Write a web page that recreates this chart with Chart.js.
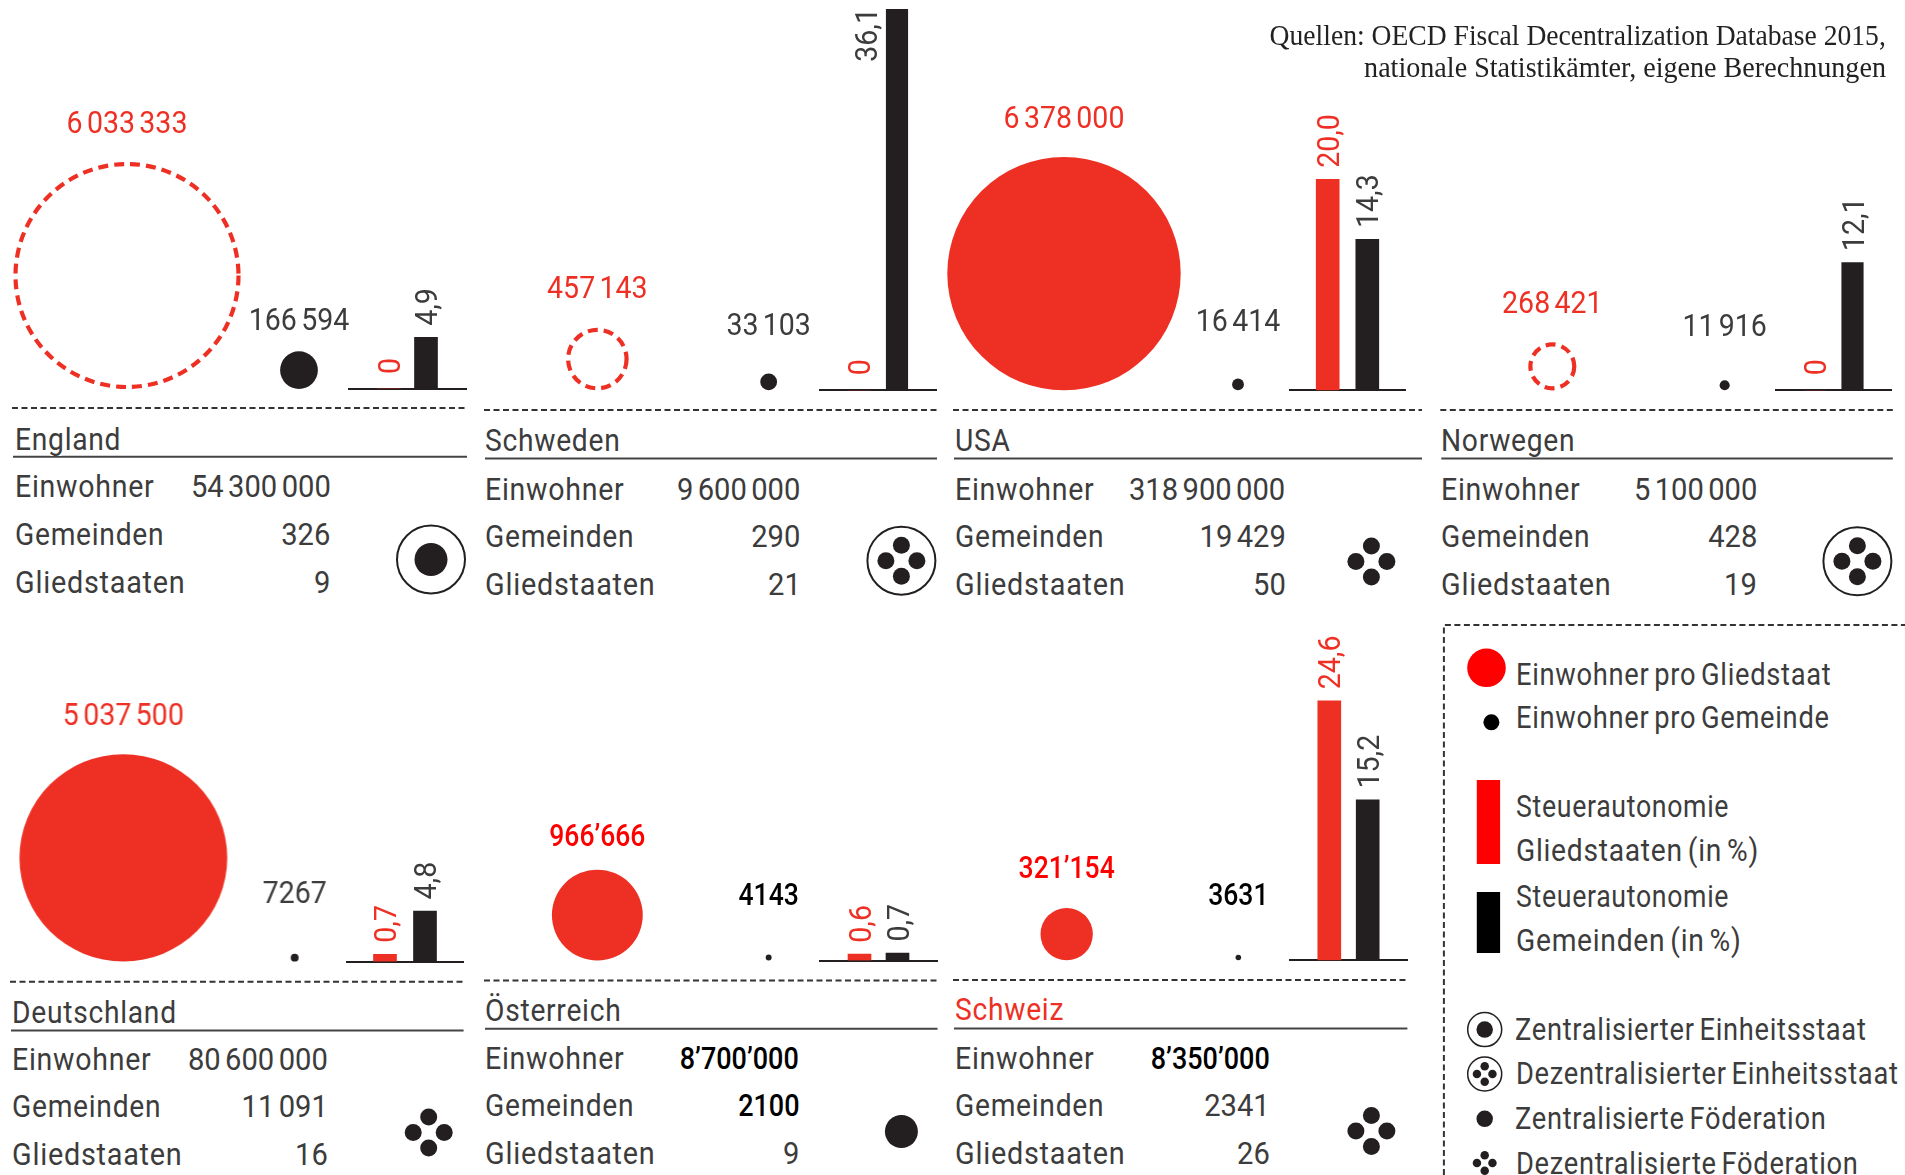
<!DOCTYPE html>
<html lang="de">
<head>
<meta charset="utf-8">
<title>Steuerautonomie</title>
<script src="https://cdn.jsdelivr.net/npm/chart.js@4"></script>
<style>
  html, body { margin: 0; background: #fff; overflow: hidden; }
  #page { position: relative; width: 1905px; height: 1175px; overflow: hidden; }
  #page canvas { position: absolute; pointer-events: none; }
  #deco { position: absolute; left: 0; top: 0; }
  .txt { position: absolute; white-space: nowrap; line-height: 1; color: #3c3c3c;
         font: 31px/1 Roboto, sans-serif; word-spacing: -3px; }
  .src { font: 30px/1 "Liberation Serif", serif; color: #222; word-spacing: 0; }
  .title { text-shadow: 2px 0 #fff, -2px 0 #fff, 3px 0 #fff, -3px 0 #fff; }
</style>
</head>
<body>
<div id="page"><svg id="deco" width="1905" height="1175"></svg></div>
<script>
const countries = ['England', 'Schweden', 'USA', 'Norwegen', 'Deutschland', 'Österreich', 'Schweiz'];
const einwohner = [54300000, 9600000, 318900000, 5100000, 80600000, 8700000, 8350000];
const gemeinden = [326, 290, 19429, 428, 11091, 2100, 2341];
const gliedstaaten = [9, 21, 50, 19, 16, 9, 26];
const proGliedstaat = [6033333, 457143, 6378000, 268421, 5037500, 966666, 321154];
const proGemeinde = [166594, 33103, 16414, 11916, 7267, 4143, 3631];
const steuerGliedstaaten = [0, 0, 20.0, 0, 0.7, 0.6, 24.6];
const steuerGemeinden = [4.9, 36.1, 14.3, 12.1, 4.8, 0.7, 15.2];
const staatsform = ['zentralEinheit', 'dezentralEinheit', 'dezentralFoed', 'dezentralEinheit', 'dezentralFoed', 'zentralFoed', 'dezentralFoed'];
const rowLabels = ['Einwohner', 'Gemeinden', 'Gliedstaaten'];
const legendBubbles = ['Einwohner pro Gliedstaat', 'Einwohner pro Gemeinde'];
const legendBars = ['Steuerautonomie', 'Gliedstaaten (in %)', 'Steuerautonomie', 'Gemeinden (in %)'];
const legendForms = ['Zentralisierter Einheitsstaat', 'Dezentralisierter Einheitsstaat', 'Zentralisierte Föderation', 'Dezentralisierte Föderation'];
const quellen = ['Quellen: OECD Fiscal Decentralization Database 2015,', 'nationale Statistikämter, eigene Berechnungen'];

const RED = '#ee3024';
const INK = '#231f20';
const TEXT = '#3c3c3c';
const FONT = '31px Roboto, sans-serif';
const PX_PER_PERCENT = 10.55;
const RADIUS_PER_ROOT = 0.04621;
// the original face is a condensed DIN, Roboto is squeezed to its widths
const SQUEEZE_NUM = 0.92;
const SQUEEZE_TITLE = 0.91;
const SQUEEZE_ROW = [0.92, 0.91, 0.93];
const SQUEEZE_LEGEND = 0.88;
const SQUEEZE_SRC = [0.92, 0.937];

// page layout of the seven panels, px
const panelLayout = [
  { top: 0,   base: 389,   bigX: 127,  gap: 172,   axisL: 348,  axisW: 119, barGap: 37,   barW: 23,   smallBase: 330, bigLift: 29,
    lineL: 12,  lineR: 467,  dashY: 408, titleX: 14.5, titleY: 450,  ruleY: 456.7, rows: [497.5, 545, 593], valR: 330.7, symX: 431, symY: 559.5 },
  { top: 0,   base: 390.3, bigX: 597,  gap: 171.5, axisL: 819,  axisW: 118, barGap: 38,   barW: 21.5, smallBase: 335, bigLift: 29.5,
    lineL: 484, lineR: 937,  dashY: 410, titleX: 485,  titleY: 451,  ruleY: 458.6, rows: [500, 547, 595], valR: 800.4, symX: 901.4, symY: 560.7 },
  { top: 0,   base: 390.3, bigX: 1063.9, gap: 174.1, axisL: 1288.6, axisW: 117, barGap: 39.6, barW: 23,  smallBase: 331, bigLift: 29,
    lineL: 953, lineR: 1422, dashY: 410, titleX: 954.9, titleY: 451, ruleY: 458.6, rows: [500, 547, 595], valR: 1285.6, symX: 1371.4, symY: 561.5 },
  { top: 0,   base: 390.3, bigX: 1552.3, gap: 172.4, axisL: 1775.2, axisW: 117, barGap: 38, barW: 21.5, smallBase: 336, bigLift: 29,
    lineL: 1440.3, lineR: 1892.8, dashY: 410, titleX: 1440.9, titleY: 451, ruleY: 458.6, rows: [500, 547, 595], valR: 1757, symX: 1857.4, symY: 561.3 },
  { top: 600, base: 961.6, bigX: 123.7, gap: 171.3, axisL: 346, axisW: 117.6, barGap: 40, barW: 23, smallBase: 903, bigLift: 29.4,
    lineL: 10, lineR: 463.6, dashY: 981.8, titleX: 11.6, titleY: 1023.5, ruleY: 1030.6, rows: [1070.3, 1117.3, 1165], valR: 327.6, symX: 428.7, symY: 1132.6 },
  { top: 600, base: 960.5, bigX: 597, gap: 171.5, axisL: 818.7, axisW: 118.8, barGap: 38, barW: 23, smallBase: 905, bigLift: 23.5, strong: true,
    lineL: 484, lineR: 937.5, dashY: 980.4, titleX: 485, titleY: 1020.7, ruleY: 1028.8, rows: [1069.6, 1116.6, 1164.4], valR: 799, symX: 901.4, symY: 1131.5 },
  { top: 600, base: 960.3, bigX: 1066.3, gap: 171.7, axisL: 1288.6, axisW: 118.8, barGap: 38.4, barW: 23, smallBase: 905, bigLift: 30, strong: true,
    lineL: 953, lineR: 1407.4, dashY: 980, titleX: 954.9, titleY: 1020, ruleY: 1028.5, rows: [1069.6, 1116.6, 1164.4], valR: 1269.7, symX: 1371.4, symY: 1131 }
];

const page = document.getElementById('page');
const deco = document.getElementById('deco');

function fmtCount(n, sep) {
  const s = String(n);
  if (s.length <= 4) return s;
  return s.replace(/\B(?=(\d{3})+$)/g, sep);
}

function fmtPercent(v) {
  return v === 0 ? '0' : v.toFixed(1).replace('.', ',');
}

function radiusOf(v) {
  return RADIUS_PER_ROOT * Math.sqrt(v);
}

function addText(text, x, baseline, opts = {}) {
  const el = document.createElement('div');
  el.className = 'txt ' + (opts.cls || '');
  el.textContent = text;
  el.style.top = (baseline - 26.2) + 'px';
  if (opts.right !== undefined) {
    el.style.right = (1905 - opts.right) + 'px';
    el.style.transformOrigin = 'right top';
  } else {
    el.style.left = x + 'px';
    el.style.transformOrigin = 'left top';
  }
  if (opts.squeeze) el.style.transform = `scaleX(${opts.squeeze})`;
  if (opts.color) el.style.color = opts.color;
  if (opts.weight) el.style.fontWeight = opts.weight;
  if (opts.spacing !== undefined) el.style.letterSpacing = opts.spacing + 'px';
  page.appendChild(el);
  return el;
}

function svg(tag, attrs) {
  const el = document.createElementNS('http://www.w3.org/2000/svg', tag);
  Object.entries(attrs).forEach(([k, v]) => el.setAttribute(k, v));
  deco.appendChild(el);
  return el;
}

function drawSymbol(kind, cx, cy, k = 1) {
  const clover = [[0, -15.5], [-15.5, 0], [15.5, 0], [0, 15.5]];
  if (kind.endsWith('Einheit')) {
    svg('circle', { cx, cy, r: 34 * k, fill: 'none', stroke: INK, 'stroke-width': 2 * Math.max(k, 0.75) });
  }
  if (kind.startsWith('zentral')) {
    svg('circle', { cx, cy, r: 16.5 * k, fill: INK });
  } else {
    clover.forEach(([dx, dy]) => svg('circle', { cx: cx + dx * k, cy: cy + dy * k, r: 8.5 * k, fill: INK }));
  }
}

// bubble label, dashed outline for states without tax autonomy
const bubbleExtras = {
  id: 'bubbleExtras',
  beforeDatasetDraw(chart, args) {
    if (chart.data.datasets[args.index].dashed) chart.ctx.setLineDash([10, 6]);
  },
  afterDatasetDraw(chart) {
    chart.ctx.setLineDash([]);
  },
  afterDraw(chart, args, opts) {
    const { ctx } = chart;
    const big = chart.getDatasetMeta(0).data[0];
    const small = chart.getDatasetMeta(1).data[0];
    const put = (label, x, y, color) => {
      ctx.save();
      ctx.font = (opts.strong ? '500 ' : '') + FONT;
      ctx.wordSpacing = '-3px';
      ctx.textAlign = 'center';
      ctx.textBaseline = 'alphabetic';
      ctx.fillStyle = color;
      ctx.translate(x, y);
      ctx.scale(SQUEEZE_NUM * (opts.strong ? 0.93 : 1), 1);
      ctx.fillText(label, 0, 0);
      ctx.restore();
    };
    put(opts.bigLabel, big.x, big.y - opts.bigR - opts.bigLift, opts.strong ? '#ff0000' : RED);
    put(opts.smallLabel, small.x, opts.smallY, opts.strong ? '#000' : TEXT);
  }
};

// rotated percent labels above the bars
const barLabels = {
  id: 'barLabels',
  afterDraw(chart) {
    const { ctx } = chart;
    const meta = chart.getDatasetMeta(0);
    ctx.save();
    ctx.font = FONT;
    ctx.textBaseline = 'alphabetic';
    ctx.textAlign = 'left';
    meta.data.forEach((bar, i) => {
      const label = fmtPercent(chart.data.datasets[0].data[i].y);
      const len = ctx.measureText(label).width * SQUEEZE_NUM;
      let x = bar.x + 11;
      let y = bar.y - (label === '0' ? 15 : 11.5);
      // no room above the bar: set it beside the bar, against the top edge
      if (y - len < 0) {
        x = bar.x - 20;
        y = len + 8;
      }
      ctx.save();
      ctx.translate(x, y);
      ctx.rotate(-Math.PI / 2);
      ctx.scale(SQUEEZE_NUM, 1);
      ctx.fillStyle = i === 0 ? RED : TEXT;
      ctx.fillText(label, 0, 0);
      ctx.restore();
    });
    ctx.restore();
  }
};

function makeCanvas(left, top, width, height) {
  const c = document.createElement('canvas');
  c.style.left = left + 'px';
  c.style.top = top + 'px';
  c.style.width = width + 'px';
  c.style.height = height + 'px';
  c.width = width;
  c.height = height;
  page.appendChild(c);
  return c;
}

function renderBubbles(i) {
  const p = panelLayout[i];
  const h = p.base - p.top;
  const c = makeCanvas(p.bigX - p.gap, p.top, p.gap * 3, Math.ceil(h) + 8);
  const dashed = steuerGliedstaaten[i] === 0;
  const rBig = radiusOf(proGliedstaat[i]) - (dashed ? 2 : 0);
  const rSmall = radiusOf(proGemeinde[i]);
  new Chart(c, {
    type: 'bubble',
    data: {
      datasets: [
        {
          dashed,
          data: [{ x: 0, y: rBig + (dashed ? 2 : 0), r: rBig }],
          backgroundColor: dashed ? 'transparent' : RED,
          borderColor: RED,
          borderWidth: dashed ? 4.2 : 0,
          clip: false
        },
        {
          data: [{ x: 1, y: rSmall, r: rSmall }],
          backgroundColor: INK,
          borderWidth: 0,
          clip: false
        }
      ]
    },
    options: {
      responsive: false,
      animation: false,
      events: [],
      layout: { autoPadding: false, padding: { bottom: Math.ceil(h) + 8 - h } },
      scales: {
        x: { display: false, min: -1, max: 2 },
        y: { display: false, min: 0, max: h }
      },
      plugins: {
        legend: { display: false },
        tooltip: { enabled: false },
        bubbleExtras: {
          strong: p.strong,
          bigLabel: fmtCount(proGliedstaat[i], p.strong ? '’' : ' '),
          smallLabel: fmtCount(proGemeinde[i], ' '),
          bigR: radiusOf(proGliedstaat[i]),
          bigLift: p.bigLift,
          smallY: p.smallBase - p.top
        }
      }
    },
    plugins: [bubbleExtras]
  });
}

function renderBars(i) {
  const p = panelLayout[i];
  const h = p.base - p.top;
  const c = makeCanvas(p.axisL, p.top, Math.ceil(p.axisW), Math.ceil(h) + 4);
  const halfUnits = c.width / (2 * p.barGap);
  new Chart(c, {
    type: 'bar',
    data: {
      datasets: [{
        data: [{ x: 1, y: steuerGliedstaaten[i] }, { x: 2, y: steuerGemeinden[i] }],
        backgroundColor: [RED, INK],
        barThickness: p.barW,
        borderWidth: 0
      }]
    },
    options: {
      responsive: false,
      animation: false,
      events: [],
      layout: { autoPadding: false, padding: { bottom: Math.ceil(h) + 4 - h } },
      scales: {
        x: {
          type: 'linear', offset: false, min: 1.5 - halfUnits, max: 1.5 + halfUnits,
          ticks: { display: false },
          grid: { display: false, drawTicks: false },
          border: { display: true, color: INK, width: 2 }
        },
        y: { display: false, min: 0, max: h / PX_PER_PERCENT }
      },
      plugins: { legend: { display: false }, tooltip: { enabled: false } }
    },
    plugins: [barLabels]
  });
}

function renderTable(i) {
  const p = panelLayout[i];
  svg('line', { x1: p.lineL, x2: p.lineR, y1: p.dashY, y2: p.dashY, stroke: '#333', 'stroke-width': 2, 'stroke-dasharray': '6 3.5' });
  svg('line', { x1: p.lineL + 1, x2: p.lineR, y1: p.ruleY, y2: p.ruleY, stroke: '#444', 'stroke-width': 2 });
  addText(countries[i], p.titleX, p.titleY, { cls: 'title', color: i === 6 ? RED : TEXT, spacing: 0.8, squeeze: SQUEEZE_TITLE });
  const vals = [einwohner[i], gemeinden[i], gliedstaaten[i]];
  rowLabels.forEach((label, r) => {
    addText(label, p.titleX, p.rows[r], { spacing: 0.8, squeeze: SQUEEZE_ROW[r] });
    const strong = p.strong && (r === 0 || (i === 5 && r === 1));
    addText(fmtCount(vals[r], p.strong ? '’' : ' '), 0, p.rows[r], {
      right: p.valR,
      weight: strong ? 500 : 400,
      color: strong ? '#000' : TEXT,
      squeeze: strong ? 0.87 : 0.94
    });
  });
  drawSymbol(staatsform[i], p.symX, p.symY);
}

function renderLegend() {
  svg('path', { d: 'M1443.9 1175V625H1905', fill: 'none', stroke: '#333', 'stroke-width': 2, 'stroke-dasharray': '6 3.5' });
  svg('circle', { cx: 1486.5, cy: 667.8, r: 19.3, fill: '#ff0000' });
  svg('circle', { cx: 1491.4, cy: 722.3, r: 8, fill: '#000' });
  svg('rect', { x: 1476.8, y: 780, width: 23.3, height: 84, fill: '#ff0000' });
  svg('rect', { x: 1476.8, y: 892, width: 23.3, height: 61, fill: '#000' });
  addText(legendBubbles[0], 1516.4, 684.8, { spacing: 0.8, squeeze: SQUEEZE_LEGEND });
  addText(legendBubbles[1], 1516.4, 728, { spacing: 0.8, squeeze: SQUEEZE_LEGEND });
  const barSqueeze = [0.86, 0.91, 0.86, 0.91];
  [817, 861.4, 906.7, 951].forEach((y, i) => addText(legendBars[i], 1516, y, { spacing: 0.8, squeeze: barSqueeze[i] }));
  const kinds = ['zentralEinheit', 'dezentralEinheit', 'zentralFoed', 'dezentralFoed'];
  const symY = [1029.6, 1074, 1118.8, 1163];
  const textX = [1514.6, 1516.4, 1514.6, 1516.4];
  const textY = [1040, 1084.4, 1128.7, 1174];
  legendForms.forEach((label, i) => {
    drawSymbol(kinds[i], 1484.7, symY[i], 0.5);
    addText(label, textX[i], textY[i], { spacing: 0.8, squeeze: SQUEEZE_LEGEND });
  });
}

function renderSources() {
  quellen.forEach((line, i) => {
    const el = addText(line, 0, 0, { cls: 'src', right: 1885.5, squeeze: SQUEEZE_SRC[i] });
    el.style.top = (20 + i * 32) + 'px';
  });
}

countries.forEach((name, i) => {
  renderBubbles(i);
  renderBars(i);
  renderTable(i);
});
renderLegend();
renderSources();
</script>
</body>
</html>
